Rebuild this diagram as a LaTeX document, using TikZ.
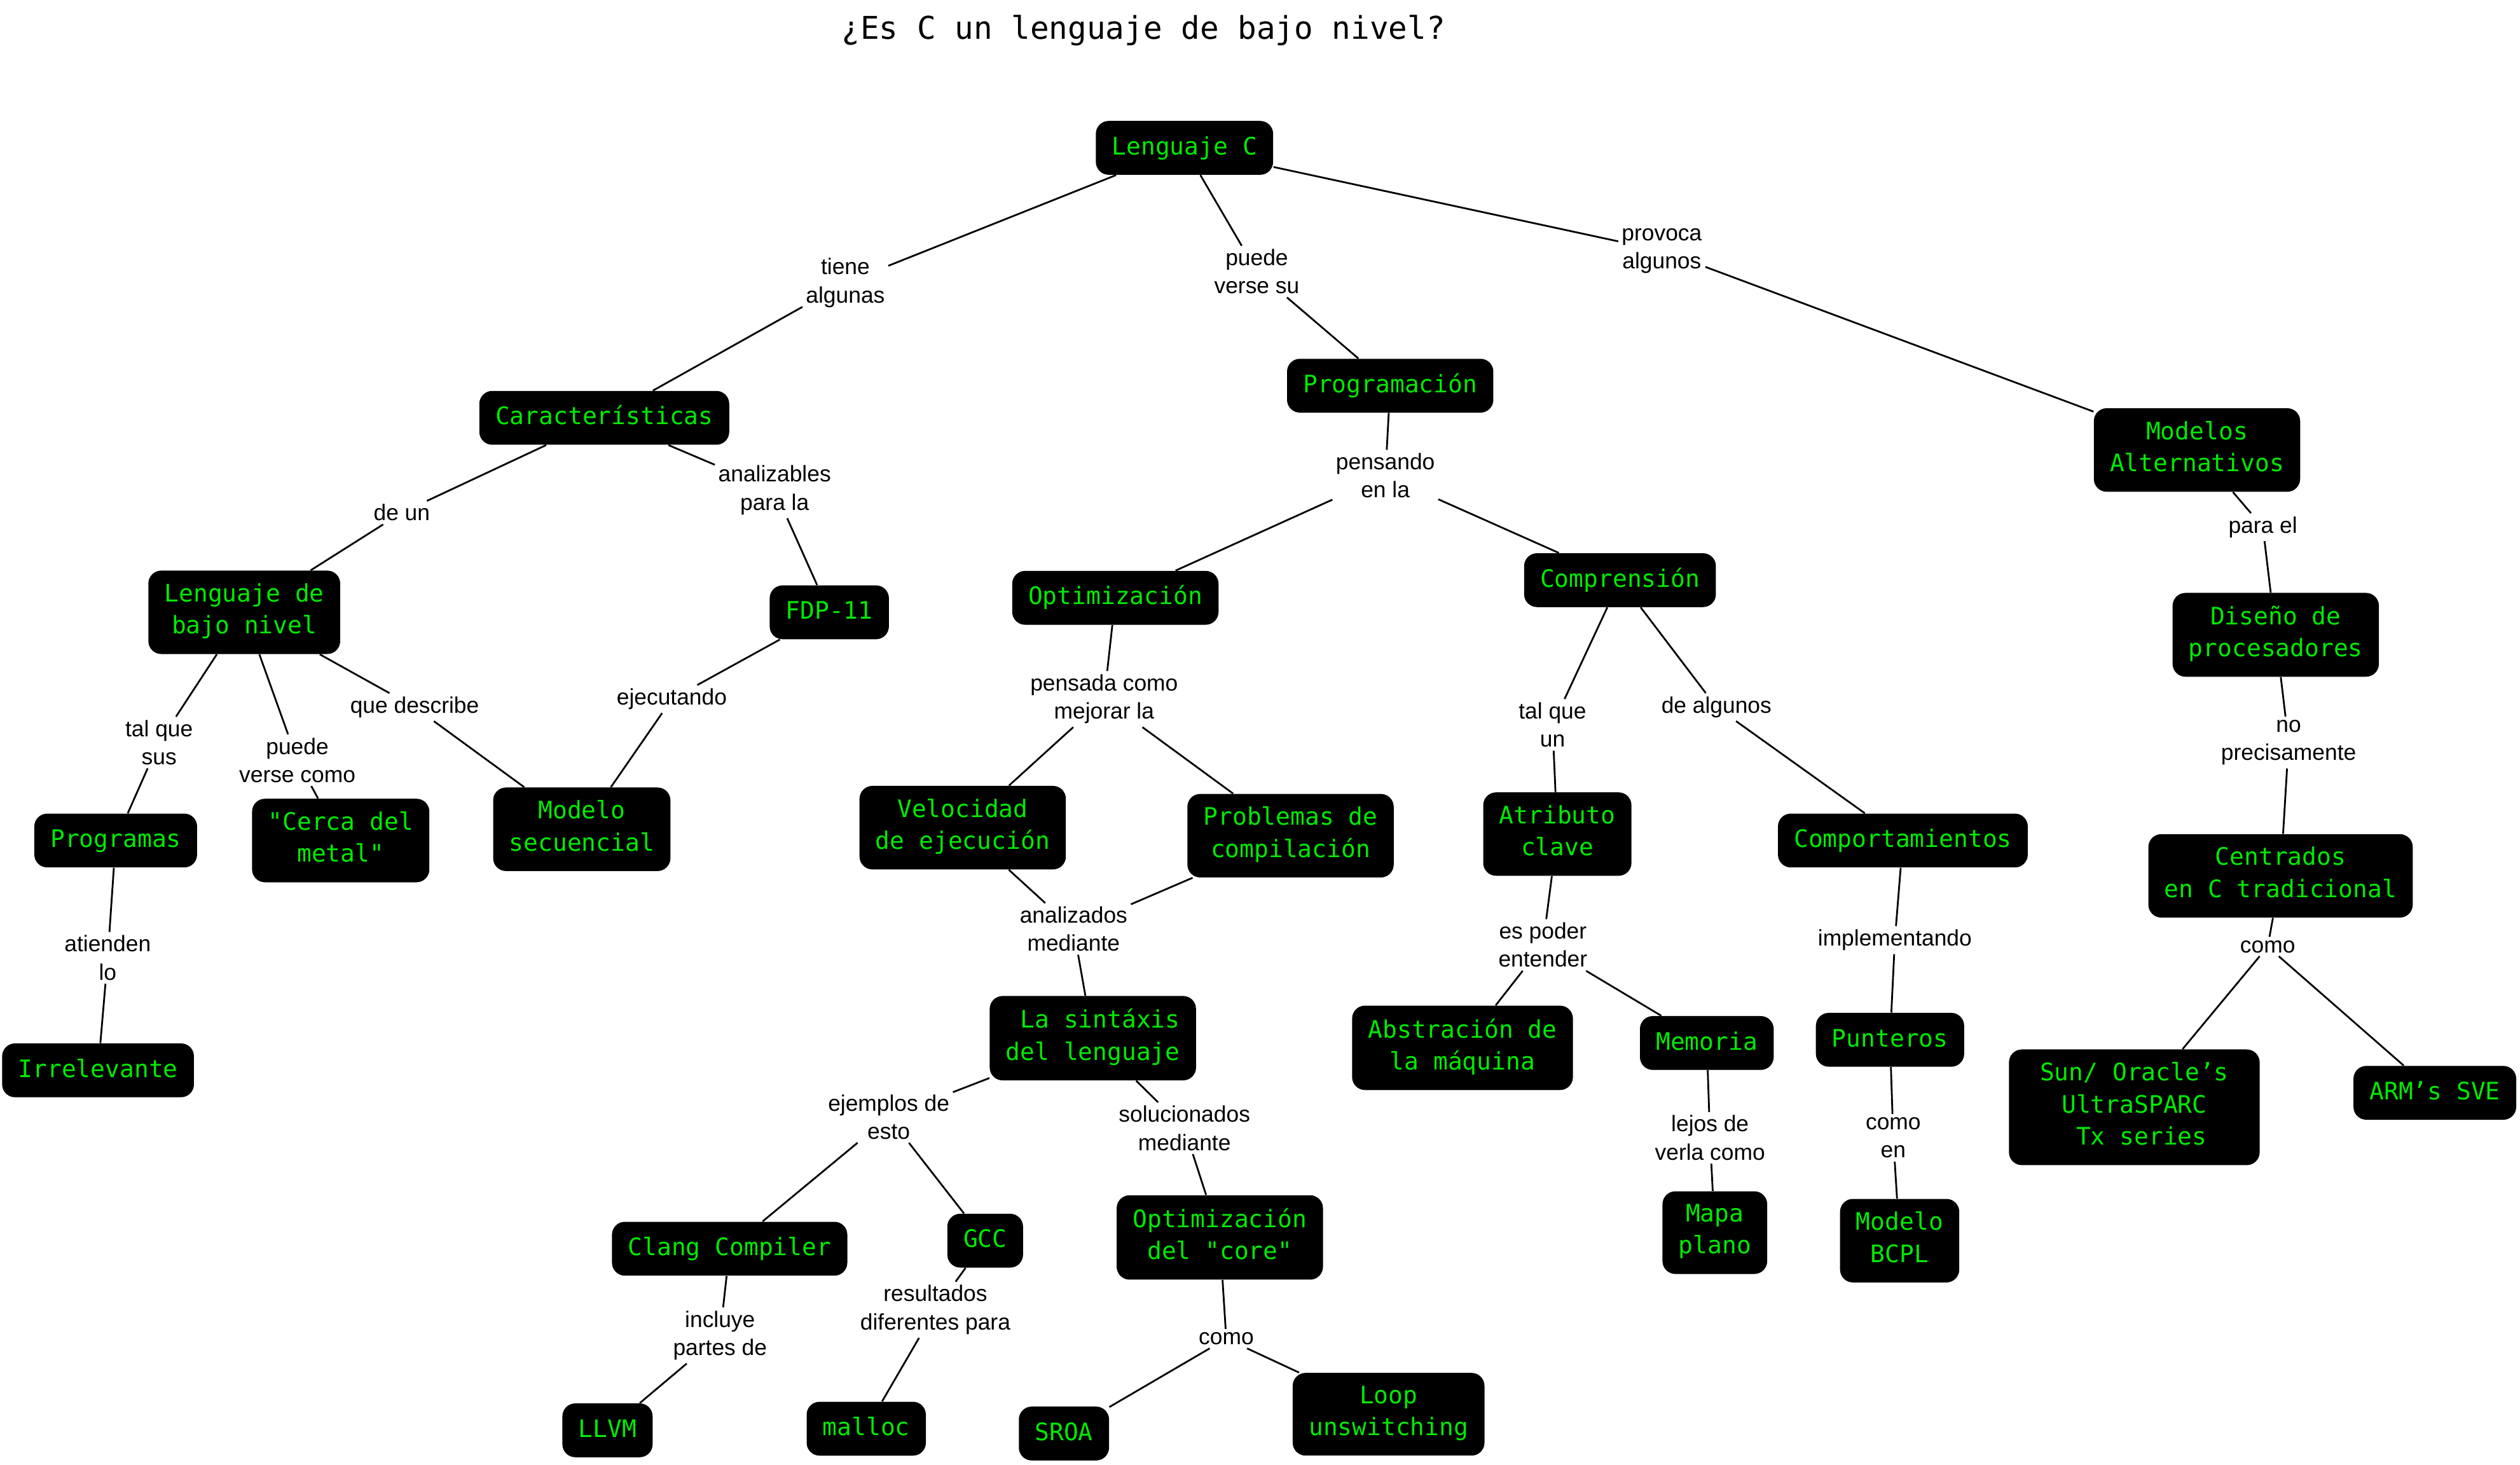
\documentclass[tikz,border=0pt]{standalone}
\usepackage{fontspec}
\newfontfamily\cmono{DejaVu Sans Mono}
\newfontfamily\clab{Liberation Sans}
\definecolor{cgreen}{RGB}{0,235,0}
\newcommand{\cstrtop}{\rule{0pt}{13pt}}
\newcommand{\cstrbot}{\rule[-4.5pt]{0pt}{4.5pt}}
\begin{document}
\begin{tikzpicture}[x=1pt,y=-1pt,
  cnode/.style={fill=black, rounded corners=8pt, text=cgreen,
    font=\cmono\fontsize{15}{20}\selectfont, align=center,
    inner xsep=10pt, inner ysep=8pt,
    execute at begin node=\cstrtop, execute at end node=\cstrbot},
  lnode/.style={font=\clab\fontsize{14}{17.5}\selectfont, align=center,
    inner sep=2pt, text=black},
  conn/.style={draw=black, line width=1.1pt}]
\fill[white] (0,0) rectangle (1568,911.2);
\useasboundingbox (0,0) rectangle (1568,911.2);

\node[font=\cmono\fontsize{19.5}{23}\selectfont] (title) at (711.5,19) {¿Es C un lenguaje de bajo nivel?};

% concepts
\node[cnode] (lc) at (737,92) {Lenguaje C};
\node[cnode] (car) at (376,260) {Características};
\node[cnode] (prog) at (865,240) {Programación};
\node[cnode] (malt) at (1367,280) {Modelos\\Alternativos};
\node[cnode] (lbn) at (152,381) {Lenguaje de\\bajo nivel};
\node[cnode] (fdp) at (516,381) {FDP-11};
\node[cnode] (opt) at (694,372) {Optimización};
\node[cnode] (comp) at (1008,361) {Comprensión};
\node[cnode] (dis) at (1416,395) {Diseño de\\procesadores};
\node[cnode] (progs) at (72,523) {Programas};
\node[cnode] (cerca) at (212,523) {"Cerca del\\metal"};
\node[cnode] (mseq) at (362,516) {Modelo\\secuencial};
\node[cnode] (vel) at (599,515) {Velocidad\\de ejecución};
\node[cnode] (prob) at (803,520) {Problemas de\\compilación};
\node[cnode] (atr) at (969,519) {Atributo\\clave};
\node[cnode] (compor) at (1184,523) {Comportamientos};
\node[cnode] (cent) at (1419,545) {Centrados\\en C tradicional};
\node[cnode] (irr) at (61,666) {Irrelevante};
\node[cnode] (sint) at (680,646) {\phantom{L}La sintáxis\\del lenguaje};
\node[cnode] (abs) at (910,652) {Abstración de\\la máquina};
\node[cnode] (mem) at (1062,649) {Memoria};
\node[cnode] (punt) at (1176,647) {Punteros};
\node[cnode, minimum width=156pt] (sun) at (1328,689) {Sun/ Oracle’s\\UltraSPARC\\\phantom{T}Tx series};
\node[cnode] (arm) at (1515,680) {ARM’s SVE};
\node[cnode] (clang) at (454,777) {Clang Compiler};
\node[cnode] (gcc) at (613,772) {GCC};
\node[cnode] (ocore) at (759,770) {Optimización\\del "core"};
\node[cnode] (mapa) at (1067,767) {Mapa\\plano};
\node[cnode] (bcpl) at (1182,772) {Modelo\\BCPL};
\node[cnode] (llvm) at (378,890) {LLVM};
\node[cnode] (malloc) at (539,889) {malloc};
\node[cnode] (sroa) at (662,892) {SROA};
\node[cnode] (loop) at (864,880) {Loop\\unswitching};

% link labels
\node[lnode] (l1) at (526,176) {tiene\\algunas};
\node[lnode] (l2) at (782,169) {puede\\verse su};
\node[lnode] (l3) at (1034,156) {provoca\\algunos};
\node[lnode] (l4) at (250,319) {de un};
\node[lnode] (l5) at (482,305) {analizables\\para la};
\node[lnode] (l6) at (862,296) {pensando\\en la};
\node[lnode] (l7) at (1408,328) {para el};
\node[lnode] (l8) at (99,462) {tal que\\sus};
\node[lnode] (l9) at (185,473) {puede\\verse como};
\node[lnode] (l10) at (258,440) {que describe};
\node[lnode] (l11) at (418,435) {ejecutando};
\node[lnode] (l12) at (687,435) {pensada como\\mejorar la};
\node[lnode] (l13) at (966,451) {tal que\\un};
\node[lnode] (l14) at (1068,440) {de algunos};
\node[lnode] (l15) at (1424,462) {no\\precisamente};
\node[lnode] (l16) at (67,596) {atienden\\lo};
\node[lnode] (l17) at (668,578) {analizados\\mediante};
\node[lnode] (l18) at (960,588) {es poder\\entender};
\node[lnode] (l19) at (1179,585) {implementando};
\node[lnode] (l20) at (1411,589) {como};
\node[lnode] (l21) at (553,695) {ejemplos de\\esto};
\node[lnode] (l22) at (737,702) {solucionados\\mediante};
\node[lnode] (l23) at (1064,708) {lejos de\\verla como};
\node[lnode] (l24) at (1178,708) {como\\en};
\node[lnode] (l25) at (448,831) {incluye\\partes de};
\node[lnode] (l26) at (582,815) {resultados\\diferentes para};
\node[lnode] (l27) at (763,833) {como};

% connectors
\draw[conn] (lc) -- (l1);  \draw[conn] (l1) -- (car);
\draw[conn] (lc) -- (l2);  \draw[conn] (l2) -- (prog);
\draw[conn] (lc) -- (l3);  \draw[conn] (l3) -- (malt);
\draw[conn] (car) -- (l4); \draw[conn] (l4) -- (lbn);
\draw[conn] (car) -- (l5); \draw[conn] (l5) -- (fdp);
\draw[conn] (prog) -- (l6); \draw[conn] (l6) -- (opt); \draw[conn] (l6) -- (comp);
\draw[conn] (malt) -- (l7); \draw[conn] (l7) -- (dis);
\draw[conn] (lbn) -- (l8); \draw[conn] (l8) -- (progs);
\draw[conn] (lbn) -- (l9); \draw[conn] (l9) -- (cerca);
\draw[conn] (lbn) -- (l10); \draw[conn] (l10) -- (mseq);
\draw[conn] (fdp) -- (l11); \draw[conn] (l11) -- (mseq);
\draw[conn] (opt) -- (l12); \draw[conn] (l12) -- (vel); \draw[conn] (l12) -- (prob);
\draw[conn] (comp) -- (l13); \draw[conn] (l13) -- (atr);
\draw[conn] (comp) -- (l14); \draw[conn] (l14) -- (compor);
\draw[conn] (dis) -- (l15); \draw[conn] (l15) -- (cent);
\draw[conn] (progs) -- (l16); \draw[conn] (l16) -- (irr);
\draw[conn] (vel) -- (l17); \draw[conn] (prob) -- (l17); \draw[conn] (l17) -- (sint);
\draw[conn] (atr) -- (l18); \draw[conn] (l18) -- (abs); \draw[conn] (l18) -- (mem);
\draw[conn] (compor) -- (l19); \draw[conn] (l19) -- (punt);
\draw[conn] (cent) -- (l20); \draw[conn] (l20) -- (sun); \draw[conn] (l20) -- (arm);
\draw[conn] (sint) -- (l21); \draw[conn] (l21) -- (clang); \draw[conn] (l21) -- (gcc);
\draw[conn] (sint) -- (l22); \draw[conn] (l22) -- (ocore);
\draw[conn] (mem) -- (l23); \draw[conn] (l23) -- (mapa);
\draw[conn] (punt) -- (l24); \draw[conn] (l24) -- (bcpl);
\draw[conn] (clang) -- (l25); \draw[conn] (l25) -- (llvm);
\draw[conn] (gcc) -- (l26); \draw[conn] (l26) -- (malloc);
\draw[conn] (ocore) -- (l27); \draw[conn] (l27) -- (sroa); \draw[conn] (l27) -- (loop);
\end{tikzpicture}
\end{document}
